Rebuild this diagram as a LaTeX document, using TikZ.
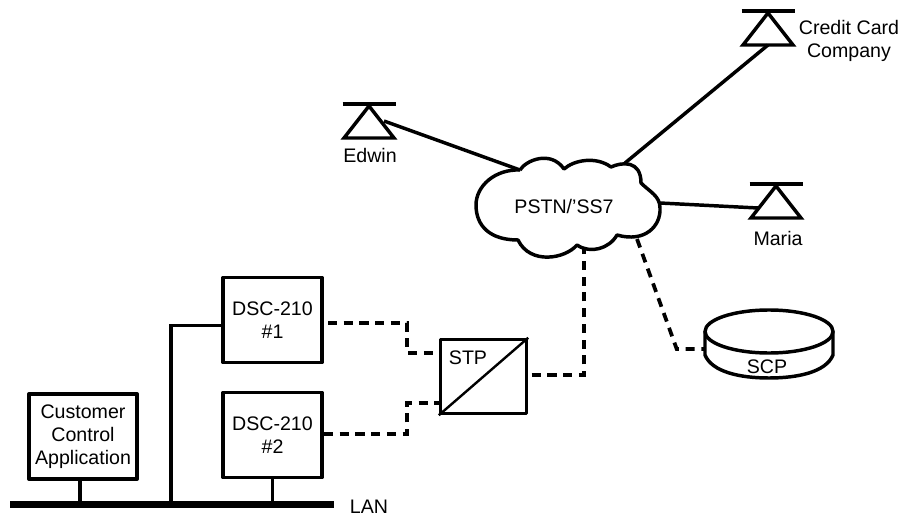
\documentclass[tikz,border=0pt]{standalone}
\usepackage{fontspec}
\setmainfont{Liberation Sans}
\usetikzlibrary{positioning,calc}
\tikzstyle{box} = [draw,line width=2.6pt,line join=round,inner sep=0pt,align=center]
\tikzstyle{wire} = [line width=2.6pt]
\tikzstyle{dashwire} = [line width=2.8pt,dash pattern=on 6.8pt off 5pt]
\tikzstyle{txt} = [inner sep=0pt,align=center]
\tikzset{
  antenna/.pic={
    \draw [line width=2.6pt] (-26.5,0) -- (26.5,0);
    \draw [line width=2.6pt,line join=miter] (0,2) -- (25,34) -- (-25,34) -- cycle;
    \coordinate (-base) at (0,34);
    \coordinate (-left) at (-18,24);
    \coordinate (-right) at (15,17);
  }
}

\begin{document}
\begin{tikzpicture}[x=0.75pt,y=-0.75pt,font=\fontsize{14.7}{17.3}\selectfont]
    \useasboundingbox (0,0) rectangle (902,516);
    % cloud
    \draw [wire,line join=round] (520,170) coordinate (c1)
      .. controls (526,160) and (551,150) .. (564,169)
      .. controls (574,160) and (596,156) .. (611,167)
      .. controls (622,162) and (641,160) .. (641,183)
      .. controls (650,192) and (660,196) .. (660,208)
      .. controls (661,226) and (645,243) .. (617,235)
      .. controls (609,249) and (590,254) .. (577,245)
      .. controls (565,259) and (530,265) .. (518,240)
      .. controls (490,240) and (476,226) .. (476,205)
      .. controls (476,186) and (495,169) .. (520,170);
    \node [txt] (pstn) at (564,206) {PSTN/'SS7};
    \coordinate (c2) at (625,163);
    \coordinate (c3) at (660,203);
    \coordinate (c4) at (584,247);
    \coordinate (c5) at (637,239);
    % terminals
    \pic (edwin) at (369,104) {antenna};
    \pic (card) at (768,11) {antenna};
    \pic (maria) at (776,184) {antenna};
    \node [txt] (edwinlabel) at (370,155) {Edwin};
    \node [txt] (cardlabel) at (849,41) {Credit Card\\Company};
    \node [txt] (marialabel) at (778,238) {Maria};
    \draw [wire] (edwin-right) -- (c1);
    \draw [wire] (card-base) -- (c2);
    \draw [wire] (maria-left) -- (c3);
    % boxes
    \node [box,minimum width=81pt,minimum height=64pt] (app) at (83,436.5) {Customer\\Control\\Application};
    \node [box,minimum width=74pt,minimum height=64pt] (dsc1) at (272.5,320) {DSC-210\\\#1};
    \node [box,minimum width=74pt,minimum height=64pt] (dsc2) at (272.5,435) {DSC-210\\\#2};
    \node [box,minimum width=64.5pt,minimum height=55.5pt] (stp) at (483.5,376.5) {};
    \node [txt] (stplabel) at (468,358) {STP};
    \draw [line width=1.8pt] (stp.south west) -- (stp.north east);
    % LAN
    \coordinate (lanw) at (10,504.5);
    \coordinate (lane) at (334,504.5);
    \draw [line width=5.6pt] (lanw) -- (lane);
    \node [txt] (lan) at (369,507) {LAN};
    \draw [wire] (80,504) -- (80,479);
    \draw [wire] (272.5,504) -- (dsc2.south);
    \draw [wire] (171,504) -- (171,325.7) -- (dsc1.west |- 0,325.7);
    % dashed links
    \draw [dashwire] (328,322.7) -- (406.7,322.7) -- (406.7,352.7) -- (stp.west |- 0,352.7);
    \draw [dashwire] (324,434) -- (406.7,434) -- (406.7,402.7) -- (stp.west |- 0,402.7);
    \draw [dashwire] (531.7,375) -- (584,375) -- (c4);
    % SCP
    \draw [wire] (769,331.5) coordinate (scp) ellipse (64 and 21.5);
    \draw [wire] (705,331.5) -- (705,355) .. controls (712,372) and (740,378) .. (769,378)
      .. controls (798,378) and (826,372) .. (833,355) -- (833,331.5);
    \node [txt] (scplabel) at (767,367) {SCP};
    \draw [dashwire] (c5) -- (676.7,349) -- (705,349);
  \end{tikzpicture}
\end{document}
